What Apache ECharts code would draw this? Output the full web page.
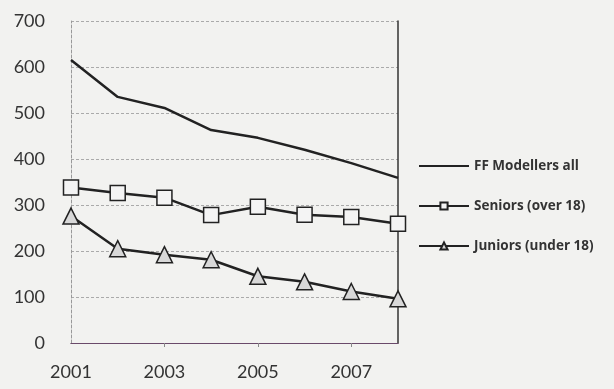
<!DOCTYPE html>
<html><head><meta charset="utf-8">
<script src="https://cdn.jsdelivr.net/npm/echarts@6/dist/echarts.min.js"></script>
<style>html,body{margin:0;padding:0;background:#f2f2f0;}#c{width:614px;height:389px;}</style>
</head><body><div id="c"></div>
<script>
const years = ['2001','2002','2003','2004','2005','2006','2007','2008'];
const ffAll = [615, 535, 511, 463, 446, 420, 391, 359];
const seniors = [338, 326, 316, 278, 296, 279, 274, 259];
const juniors = [276, 205, 192, 181, 145, 133, 112, 96];
const yTicks = [0, 100, 200, 300, 400, 500, 600, 700];

const chart = echarts.init(document.getElementById('c'));
const lineCol = '#222';
const labelFont = {fontFamily: 'Lato', fontSize: 18, color: '#333'};
chart.setOption({
  backgroundColor: '#f2f2f0',
  animation: false,
  grid: {left: 71, right: 216, top: 21, bottom: 46},
  legend: {
    orient: 'vertical', left: 413, top: 154, itemWidth: 50, itemHeight: 9, itemGap: 26,
    textStyle: {fontFamily: 'Open Sans', fontSize: 13.5, fontWeight: 'bold', color: '#333'},
    data: [
      {name: 'FF Modellers all', itemStyle: {opacity: 0}},
      {name: 'Seniors (over 18)'},
      {name: 'Juniors (under 18)'}
    ]
  },
  xAxis: [{
    type: 'category', data: years, boundaryGap: false,
    axisLine: {lineStyle: {color: '#888', type: [3, 2], width: 1}},
    axisTick: {show: true, interval: (i) => i % 2 === 0 && i > 0, length: 4, lineStyle: {color: '#888'}},
    axisLabel: Object.assign({interval: 1, margin: 20}, labelFont),
    splitLine: {show: false}
  }, {
    type: 'category', data: years, boundaryGap: false, position: 'top',
    axisLine: {lineStyle: {color: '#6a4a6a', width: 1.2}}, axisTick: {show: false}, axisLabel: {show: false}
  }],
  yAxis: [{
    type: 'value', min: 0, max: 700, interval: 100,
    axisLine: {show: true, lineStyle: {color: '#999', type: [3, 2]}},
    axisTick: {show: false},
    axisLabel: Object.assign({margin: 26, formatter: (v) => yTicks.includes(v) ? String(v) : ''}, labelFont),
    splitLine: {show: true, lineStyle: {color: '#aaa', type: [3, 2], width: 1}}
  }, {
    type: 'value', min: 0, max: 700, interval: 100, position: 'right',
    axisLine: {show: true, lineStyle: {color: '#333', width: 1.5}},
    axisTick: {show: false}, axisLabel: {show: false}, splitLine: {show: false}
  }],
  series: [{
    name: 'FF Modellers all', type: 'line', data: ffAll, symbol: 'none',
    lineStyle: {color: lineCol, width: 2.5}, itemStyle: {color: lineCol}
  }, {
    name: 'Seniors (over 18)', type: 'line', data: seniors, symbol: 'rect', symbolSize: 15,
    lineStyle: {color: lineCol, width: 2.5},
    itemStyle: {color: '#f4f4f4', borderColor: lineCol, borderWidth: 1.5}
  }, {
    name: 'Juniors (under 18)', type: 'line', data: juniors, symbol: 'triangle', symbolSize: 16,
    lineStyle: {color: lineCol, width: 2.5},
    itemStyle: {color: '#d8d8d8', borderColor: lineCol, borderWidth: 1.5}
  }]
});
</script></body></html>
